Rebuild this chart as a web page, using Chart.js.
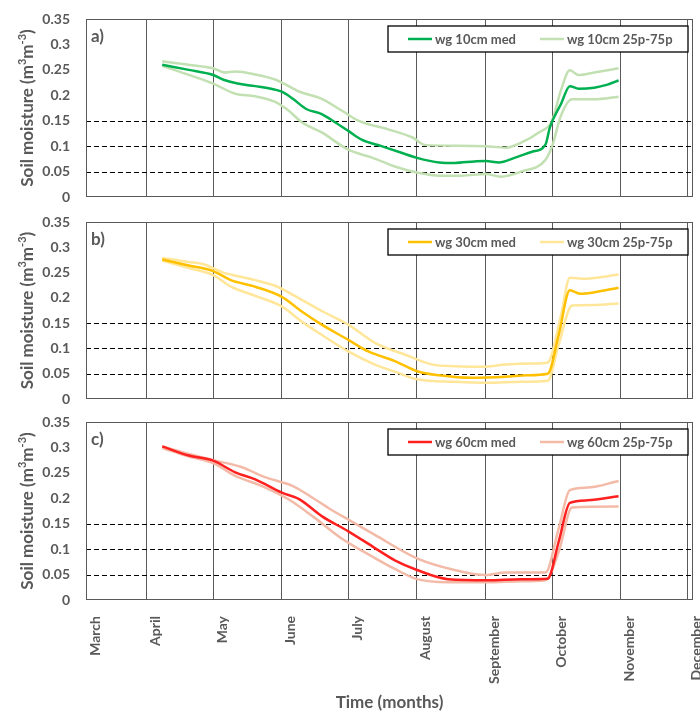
<!DOCTYPE html>
<html>
<head>
<meta charset="utf-8">
<title>Soil moisture</title>
<script src="https://cdn.jsdelivr.net/npm/chart.js@4.4.1/dist/chart.umd.min.js"></script>
<style>
  html, body { margin: 0; padding: 0; background: #fff; }
  #wrap { position: relative; width: 700px; height: 715px; overflow: hidden; }
  canvas { position: absolute; left: 0; display: block; }
</style>
</head>
<body>
<div id="wrap">
  <canvas id="cA" width="700" height="205" style="top:0"></canvas>
  <canvas id="cB" width="700" height="200" style="top:205px"></canvas>
  <canvas id="cC" width="700" height="310" style="top:405px"></canvas>
</div>
<script>
// ---- time axis (day of year) ----
const AXIS_MIN = 63.6;
const AXIS_MAX = 337.6;
const MONTHS = ['March', 'April', 'May', 'June', 'July', 'August', 'September', 'October', 'November', 'December'];
const MONTH_START = [60, 91, 121, 152, 182, 213, 244, 274, 305, 335];

// ---- y axis ----
const Y_MAX = 0.35;
const Y_STEP = 0.05;
const THRESHOLDS = [0.05, 0.1, 0.15];

// ---- wg 10 cm ----
const D10_MED = [98, 110, 121, 126, 132, 140, 149, 152, 157, 163, 170, 176, 182, 188, 197, 206, 213, 223, 230, 239, 244, 250, 257, 265, 271, 273, 278, 282, 286, 293, 299, 304];
const WG10_MED = [0.260, 0.250, 0.240, 0.230, 0.223, 0.218, 0.211, 0.207, 0.193, 0.173, 0.163, 0.147, 0.130, 0.113, 0.100, 0.087, 0.077, 0.068, 0.067, 0.070, 0.071, 0.068, 0.077, 0.089, 0.103, 0.137, 0.183, 0.218, 0.213, 0.215, 0.221, 0.229];
const D10_P75 = [98, 110, 121, 126, 131, 140, 149, 152, 160, 170, 179, 187, 200, 211, 217, 230, 244, 253, 260, 268, 274, 278, 282, 286, 293, 304];
const WG10_P75 = [0.267, 0.260, 0.253, 0.245, 0.247, 0.241, 0.231, 0.225, 0.207, 0.193, 0.170, 0.149, 0.133, 0.117, 0.102, 0.101, 0.100, 0.097, 0.107, 0.127, 0.150, 0.210, 0.249, 0.240, 0.245, 0.253];
const D10_P25 = [98, 110, 121, 131, 140, 149, 155, 161, 170, 182, 193, 203, 214, 223, 233, 244, 251, 260, 271, 274, 278, 283, 293, 304];
const WG10_P25 = [0.258, 0.240, 0.223, 0.203, 0.198, 0.187, 0.170, 0.147, 0.127, 0.093, 0.077, 0.060, 0.047, 0.042, 0.042, 0.045, 0.040, 0.050, 0.073, 0.100, 0.160, 0.192, 0.192, 0.197];

// ---- wg 30 cm ----
const D30_MED = [98, 110, 121, 129, 140, 152, 161, 170, 182, 191, 203, 213, 223, 238, 253, 263, 272, 277, 282, 287, 293, 304];
const WG30_MED = [0.276, 0.264, 0.253, 0.235, 0.222, 0.202, 0.173, 0.147, 0.117, 0.094, 0.075, 0.055, 0.047, 0.042, 0.044, 0.047, 0.050, 0.127, 0.215, 0.208, 0.211, 0.220];
const D30_P75 = [98, 110, 117, 125, 140, 150, 161, 170, 182, 194, 208, 220, 230, 244, 253, 266, 272, 278, 282, 289, 304];
const WG30_P75 = [0.279, 0.271, 0.266, 0.251, 0.235, 0.222, 0.196, 0.174, 0.147, 0.111, 0.087, 0.068, 0.065, 0.064, 0.068, 0.070, 0.072, 0.165, 0.240, 0.238, 0.246];
const D30_P25 = [98, 110, 121, 129, 140, 152, 161, 170, 182, 194, 203, 213, 230, 245, 260, 272, 277, 283, 293, 304];
const WG30_P25 = [0.274, 0.259, 0.245, 0.222, 0.204, 0.183, 0.153, 0.127, 0.094, 0.068, 0.054, 0.039, 0.034, 0.032, 0.034, 0.036, 0.108, 0.185, 0.186, 0.189];

// ---- wg 60 cm ----
const D60_MED = [98, 110, 121, 131, 140, 152, 160, 170, 182, 193, 203, 213, 227, 245, 260, 272, 277, 282, 290, 304];
const WG60_MED = [0.302, 0.284, 0.274, 0.251, 0.237, 0.211, 0.198, 0.165, 0.135, 0.105, 0.078, 0.059, 0.041, 0.039, 0.041, 0.042, 0.115, 0.191, 0.196, 0.204];
const D60_P75 = [98, 110, 121, 134, 144, 157, 163, 173, 182, 194, 213, 230, 244, 253, 271, 277, 282, 290, 304];
const WG60_P75 = [0.302, 0.287, 0.275, 0.261, 0.242, 0.224, 0.209, 0.181, 0.158, 0.128, 0.082, 0.059, 0.049, 0.054, 0.054, 0.141, 0.216, 0.221, 0.234];
const D60_P25 = [98, 110, 121, 131, 143, 155, 167, 179, 193, 203, 213, 227, 245, 260, 271, 277, 283, 304];
const WG60_P25 = [0.299, 0.282, 0.269, 0.244, 0.224, 0.198, 0.161, 0.121, 0.085, 0.061, 0.041, 0.035, 0.035, 0.037, 0.039, 0.095, 0.182, 0.184];

const FONT = 'Lato, "Open Sans", sans-serif';
const TEXT = '#595959';

function pts(days, vals) {
  return days.map((d, i) => ({ x: d, y: vals[i] }));
}

// dashed thresholds, plot frame, panel tag, boxed legend and y title
const panelDecor = {
  id: 'panelDecor',
  beforeDatasetsDraw(chart, args, o) {
    const { ctx, chartArea: a, scales: { y } } = chart;
    ctx.save();
    ctx.strokeStyle = '#000';
    ctx.lineWidth = 1.2;
    ctx.setLineDash([5, 3]);
    THRESHOLDS.forEach(v => {
      const py = Math.round(y.getPixelForValue(v)) + 0.5;
      ctx.beginPath();
      ctx.moveTo(a.left, py);
      ctx.lineTo(a.right, py);
      ctx.stroke();
    });
    ctx.setLineDash([]);
    ctx.strokeStyle = '#595959';
    ctx.lineWidth = 1;
    ctx.strokeRect(a.left + 0.5, a.top + 0.5, a.width - 1, a.height - 1);
    ctx.restore();
  },
  afterDraw(chart, args, o) {
    const { ctx, chartArea: a } = chart;
    ctx.save();

    // panel tag
    ctx.fillStyle = TEXT;
    ctx.font = `bold 17px ${FONT}`;
    ctx.textAlign = 'left';
    ctx.textBaseline = 'middle';
    ctx.fillText(o.tag, a.left + 5, a.top + 18);

    // legend box
    const bw = 300, bh = 26;
    const bx = a.right - 5 - bw, by = a.top + 7;
    ctx.fillStyle = '#fff';
    ctx.fillRect(bx, by, bw, bh);
    ctx.strokeStyle = '#000';
    ctx.lineWidth = 1.3;
    ctx.strokeRect(bx, by, bw, bh);
    const items = chart.data.datasets.filter(d => d.inLegend);
    const slots = [20, 152];
    const cy = by + bh / 2;
    items.forEach((d, i) => {
      const x0 = bx + slots[i];
      ctx.strokeStyle = d.borderColor;
      ctx.lineWidth = d.borderWidth;
      ctx.beginPath();
      ctx.moveTo(x0, cy);
      ctx.lineTo(x0 + 24, cy);
      ctx.stroke();
      ctx.fillStyle = TEXT;
      ctx.font = `bold 13px ${FONT}`;
      ctx.textAlign = 'left';
      ctx.textBaseline = 'middle';
      ctx.fillText(d.label, x0 + 27, cy + 0.5);
    });

    // y axis title with superscripts
    const parts = [['Soil moisture (m', 0], ['3', 1], ['m', 0], ['-3', 1], [')', 0]];
    const big = `bold 17px ${FONT}`, small = `bold 11px ${FONT}`;
    let w = 0;
    parts.forEach(([t, s]) => { ctx.font = s ? small : big; w += ctx.measureText(t).width; });
    ctx.translate(27, (a.top + a.bottom) / 2);
    ctx.rotate(-Math.PI / 2);
    ctx.textAlign = 'left';
    ctx.textBaseline = 'alphabetic';
    ctx.fillStyle = TEXT;
    let x = -w / 2;
    parts.forEach(([t, s]) => {
      ctx.font = s ? small : big;
      ctx.fillText(t, x, s ? -1 : 6);
      x += ctx.measureText(t).width;
    });
    ctx.restore();
  }
};

function makePanel(id, cfg) {
  const showX = cfg.showX;
  const series = [
    { label: cfg.medLabel, data: pts(cfg.med[0], cfg.med[1]), borderColor: cfg.medColor, inLegend: true },
    { label: cfg.bandLabel, data: pts(cfg.p75[0], cfg.p75[1]), borderColor: cfg.bandColor, inLegend: true },
    { label: cfg.bandLabel, data: pts(cfg.p25[0], cfg.p25[1]), borderColor: cfg.bandColor, inLegend: false }
  ].map(d => Object.assign(d, {
    borderWidth: 2.5,
    pointRadius: 0,
    fill: false,
    cubicInterpolationMode: 'monotone'
  }));

  return new Chart(document.getElementById(id), {
    type: 'line',
    data: { datasets: series },
    options: {
      responsive: false,
      animation: false,
      events: [],
      layout: { padding: { left: 0, right: 7, top: cfg.padTop, bottom: cfg.padBottom } },
      plugins: {
        legend: { display: false },
        tooltip: { enabled: false },
        panelDecor: { tag: cfg.tag }
      },
      scales: {
        x: {
          type: 'linear',
          min: AXIS_MIN,
          max: AXIS_MAX,
          afterBuildTicks: s => {
            s.ticks = MONTH_START.map(v => ({ value: Math.max(v, AXIS_MIN) }));
          },
          afterFit: s => {
            s.height = showX ? 115 : 0;
            s.paddingLeft = 0;
            s.paddingRight = 0;
          },
          grid: { color: '#595959', lineWidth: 1, drawTicks: false },
          border: { display: false },
          ticks: {
            display: showX,
            autoSkip: false,
            minRotation: 90,
            maxRotation: 90,
            padding: 16,
            labelOffset: 9,
            color: TEXT,
            font: { family: FONT, weight: 'bold', size: 14 },
            callback: (v, i) => MONTHS[i]
          },
          title: {
            display: showX,
            text: 'Time (months)',
            color: TEXT,
            font: { family: FONT, weight: 'bold', size: 17 },
            padding: { top: 0, bottom: 2 }
          }
        },
        y: {
          min: 0,
          max: Y_MAX,
          afterFit: s => {
            s.width = 86;
            s.paddingTop = 0;
            s.paddingBottom = 0;
          },
          grid: { display: false, drawTicks: false },
          border: { display: false },
          ticks: {
            stepSize: Y_STEP,
            padding: 16,
            color: TEXT,
            font: { family: FONT, weight: 'bold', size: 14 },
            callback: v => String(+v.toFixed(2))
          }
        }
      }
    },
    plugins: [panelDecor]
  });
}

makePanel('cA', {
  tag: 'a)', showX: false, padTop: 19, padBottom: 8,
  medLabel: 'wg 10cm med', bandLabel: 'wg 10cm 25p-75p',
  medColor: '#00B050', bandColor: '#C2E0B2',
  med: [D10_MED, WG10_MED], p75: [D10_P75, WG10_P75], p25: [D10_P25, WG10_P25]
});
makePanel('cB', {
  tag: 'b)', showX: false, padTop: 17, padBottom: 6,
  medLabel: 'wg 30cm med', bandLabel: 'wg 30cm 25p-75p',
  medColor: '#FFC000', bandColor: '#FFE699',
  med: [D30_MED, WG30_MED], p75: [D30_P75, WG30_P75], p25: [D30_P25, WG30_P25]
});
makePanel('cC', {
  tag: 'c)', showX: true, padTop: 17, padBottom: 0,
  medLabel: 'wg 60cm med', bandLabel: 'wg 60cm 25p-75p',
  medColor: '#FF2020', bandColor: '#F4BAA8',
  med: [D60_MED, WG60_MED], p75: [D60_P75, WG60_P75], p25: [D60_P25, WG60_P25]
});
</script>
</body>
</html>
